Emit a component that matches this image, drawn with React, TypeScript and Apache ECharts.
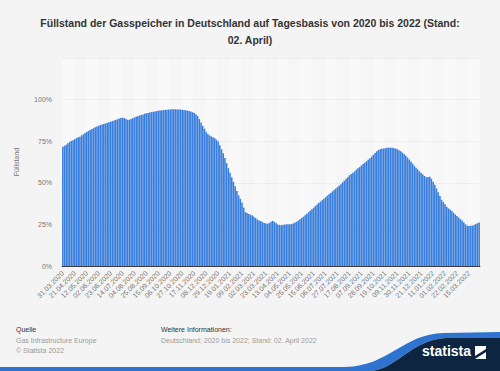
import React, { useEffect, useRef } from "react";
import * as echarts from "echarts";

const titleText =
  "Füllstand der Gasspeicher in Deutschland auf Tagesbasis von 2020 bis 2022 (Stand:\n02. April)";
const yAxisName = "Füllstand";
const startDate = "2020-03-31";
const stepDays = 3;

// Fill level (%) every 3 days, 31.03.2020 – 02.04.2022
const fillLevels = [
  71.7, 72.2, 72.9, 73.8, 74.5, 75.2, 75.6, 76.1, 76.8, 77.3,
  77.7, 78.5, 79.1, 79.9, 80.6, 81.2, 81.7, 82.3, 82.8, 83.4,
  83.9, 84.3, 84.7, 85.0, 85.4, 85.7, 86.0, 86.4, 86.7, 87.1,
  87.4, 87.8, 88.2, 88.6, 88.9, 89.1, 88.9, 88.3, 87.8, 87.9,
  88.3, 88.8, 89.3, 89.7, 90.1, 90.5, 90.8, 91.1, 91.5, 91.8,
  92.0, 92.2, 92.5, 92.7, 92.9, 93.1, 93.3, 93.4, 93.6, 93.7,
  93.8, 93.9, 94.0, 94.1, 94.2, 94.2, 94.2, 94.1, 94.1, 94.0,
  93.9, 93.8, 93.6, 93.4, 93.1, 92.8, 92.4, 92.0, 91.2, 90.1,
  88.3, 86.2, 84.2, 82.5, 80.7, 79.3, 78.5, 77.9, 77.4, 76.8,
  75.9, 74.8, 72.6, 70.2, 67.8, 64.9, 61.8, 58.8, 56.0, 53.3,
  50.6, 47.9, 45.1, 42.5, 40.4, 38.2, 35.1, 32.4, 31.9, 31.3,
  30.8, 30.4, 29.6, 28.8, 27.9, 27.4, 27.0, 26.5, 25.9, 25.6,
  25.4, 25.8, 26.6, 27.1, 26.5, 25.7, 25.0, 24.6, 24.5, 24.7,
  24.9, 25.0, 25.1, 25.0, 25.2, 25.6, 26.1, 26.6, 27.3, 28.1,
  28.9, 29.6, 30.5, 31.4, 32.3, 33.2, 34.1, 35.0, 36.0, 36.9,
  37.9, 38.7, 39.5, 40.4, 41.3, 42.2, 43.1, 43.9, 44.8, 45.6,
  46.5, 47.4, 48.3, 49.2, 50.3, 51.3, 52.4, 53.4, 54.5, 55.3,
  56.0, 56.8, 57.9, 58.7, 59.5, 60.4, 61.3, 62.1, 63.0, 63.9,
  64.7, 65.7, 66.8, 67.9, 68.9, 69.7, 70.1, 70.4, 70.6, 70.8,
  71.0, 71.1, 71.1, 71.0, 70.8, 70.6, 70.2, 69.6, 69.0, 68.2,
  67.3, 66.3, 65.2, 64.0, 62.8, 61.5, 60.2, 59.0, 58.0, 56.9,
  55.9, 55.0, 54.1, 53.3, 53.5, 53.7, 52.5, 50.6, 48.8, 46.6,
  44.3, 42.0, 39.8, 38.4, 37.1, 35.6, 34.6, 33.9, 33.1, 32.0,
  31.0, 30.0, 29.1, 28.2, 27.4, 26.2, 25.0, 24.2, 24.1, 24.2,
  24.2, 24.6, 25.2, 25.7, 26.2,
];

const tickLabels = [
  "31.03.2020", "21.04.2020", "12.05.2020", "02.06.2020", "23.06.2020",
  "14.07.2020", "04.08.2020", "25.08.2020", "15.09.2020", "06.10.2020",
  "27.10.2020", "17.11.2020", "08.12.2020", "29.12.2020", "19.01.2021",
  "09.02.2021", "02.03.2021", "23.03.2021", "13.04.2021", "04.05.2021",
  "25.05.2021", "15.06.2021", "06.07.2021", "27.07.2021", "17.08.2021",
  "07.09.2021", "28.09.2021", "19.10.2021", "09.11.2021", "30.11.2021",
  "21.12.2021", "11.01.2022", "01.02.2022", "22.02.2022", "15.03.2022",
];

const yMin = 0;
const yMax = 125;
const yStep = 25;

const footerSourceTitle = "Quelle";
const footerSourceLines = ["Gas Infrastructure Europe", "© Statista 2022"];
const footerInfoTitle = "Weitere Informationen:";
const footerInfoLines = ["Deutschland; 2020 bis 2022; Stand: 02. April 2022"];

function buildCategories(): string[] {
  const out: string[] = [];
  const base = new Date(startDate + "T00:00:00Z").getTime();
  for (let i = 0; i < fillLevels.length; i++) {
    const d = new Date(base + i * stepDays * 86400000);
    const dd = String(d.getUTCDate()).padStart(2, "0");
    const mm = String(d.getUTCMonth() + 1).padStart(2, "0");
    out.push(`${dd}.${mm}.${d.getUTCFullYear()}`);
  }
  return out;
}

const navyD =
  "M 368 371 C 396 371 410 340 446 338 L 500 338 L 500 371 Z";
const blueD =
  "M 0 367 L 345 367 C 390 366 402 334 444 333 L 500 332 L 500 338 L 446 338 C 410 340 396 371 368 371 L 0 371 Z";

let registered = false;
function registerShapes() {
  if (registered) return;
  registered = true;
  echarts.graphic.registerShape("navyWave", echarts.graphic.extendPath(navyD, {}) as any);
  echarts.graphic.registerShape("blueWave", echarts.graphic.extendPath(blueD, {}) as any);
}

export default function App() {
  const ref = useRef<HTMLDivElement>(null);

  useEffect(() => {
    document.body.style.margin = "0";
    registerShapes();
    const chart = echarts.init(ref.current!, undefined, { renderer: "svg" });
    const categories = buildCategories();
    const tickSet = new Set(tickLabels);
    const font = "'Liberation Sans', Arial, sans-serif";

    chart.setOption({
      animation: false,
      backgroundColor: "#f4f4f4",
      textStyle: { fontFamily: font },
      title: {
        text: titleText,
        left: "center",
        top: 9,
        textStyle: {
          fontSize: 10.5,
          fontWeight: "bold",
          color: "#333333",
          lineHeight: 17,
          fontFamily: font,
        },
      },
      grid: { left: 62, right: 20, top: 58, bottom: 105 },
      xAxis: {
        type: "category",
        data: categories,
        boundaryGap: true,
        axisLine: { show: true, lineStyle: { color: "#3c3c3c", width: 1 } },
        axisTick: { show: false },
        axisLabel: {
          interval: (_i: number, v: string) => tickSet.has(v),
          rotate: 45,
          fontSize: 7,
          color: "#777777",
          margin: 6,
          fontFamily: font,
        },
        splitLine: { show: false },
        splitArea: {
          show: true,
          interval: 6,
          areaStyle: { color: ["rgba(255,255,255,0.45)", "rgba(252,252,252,0.3)"] },
        },
      },
      yAxis: {
        type: "value",
        min: yMin,
        max: yMax,
        interval: yStep,
        name: yAxisName,
        nameLocation: "middle",
        nameGap: 42,
        nameRotate: 90,
        nameTextStyle: { fontSize: 7, color: "#777777", fontFamily: font },
        axisLine: { show: false },
        axisTick: { show: false },
        axisLabel: {
          fontSize: 7,
          color: "#777777",
          margin: 10,
          fontFamily: font,
          formatter: (v: number) => (v === yMax ? "" : `${v}%`),
        },
        splitLine: { show: true, lineStyle: { color: "#e2e2e2", width: 1 } },
      },
      series: [
        {
          type: "bar",
          data: fillLevels,
          barCategoryGap: "8%",
          itemStyle: { color: "#3a7edc" },
          emphasis: { disabled: true },
        },
      ],
      graphic: [
        {
          type: "text",
          left: 16,
          top: 326,
          style: { text: footerSourceTitle, fontSize: 7, fill: "#333333", fontFamily: font },
        },
        {
          type: "text",
          left: 16,
          top: 336,
          style: {
            text: footerSourceLines.join("\n"),
            fontSize: 7,
            lineHeight: 9.5,
            fill: "#9a9a9a",
            fontFamily: font,
          },
        },
        {
          type: "text",
          left: 161,
          top: 326,
          style: { text: footerInfoTitle, fontSize: 7, fill: "#333333", fontFamily: font },
        },
        {
          type: "text",
          left: 161,
          top: 336,
          style: {
            text: footerInfoLines.join("\n"),
            fontSize: 7,
            lineHeight: 9.5,
            fill: "#9a9a9a",
            fontFamily: font,
          },
        },
        { type: "blueWave", x: 0, y: 0, style: { fill: "#2f73d0" } },
        { type: "navyWave", x: 0, y: 0, style: { fill: "#0d2540" } },
        {
          type: "text",
          x: 422,
          y: 344,
          style: {
            text: "statista",
            fontSize: 14,
            fontWeight: "bold",
            fill: "#ffffff",
            fontFamily: font,
          },
        },
        {
          type: "polygon",
          shape: { points: [[475, 346], [486, 346], [486, 349], [475, 356]] },
          style: { fill: "#ffffff" },
        },
        {
          type: "polygon",
          shape: { points: [[475, 359], [486, 352], [486, 359]] },
          style: { fill: "#ffffff" },
        },
      ],
    });

    return () => {
      chart.dispose();
    };
  }, []);

  return <div ref={ref} style={{ width: 500, height: 371 }} />;
}
